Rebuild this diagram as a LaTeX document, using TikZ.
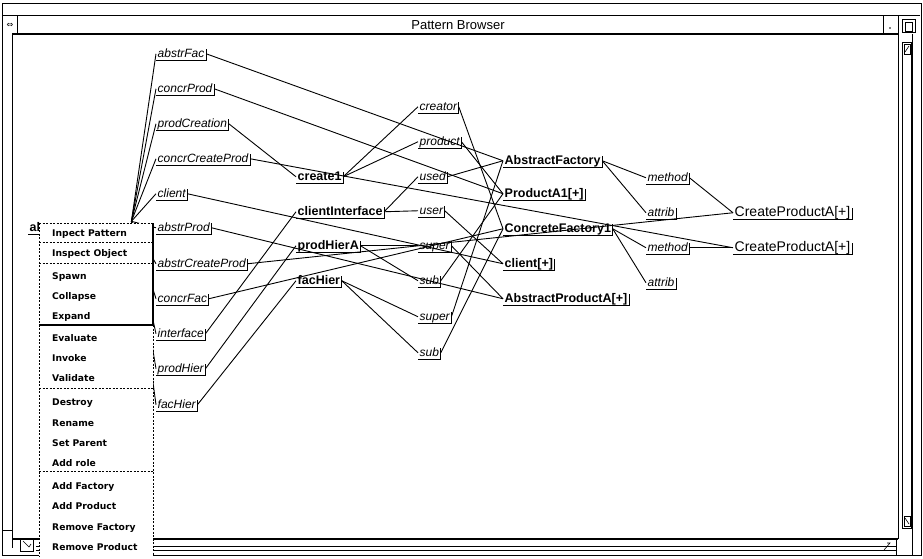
\documentclass[tikz,border=0pt]{standalone}
\usepackage{fontspec}
\setmainfont{Liberation Sans}
\newfontfamily\uifont{Liberation Sans}
\newfontfamily\menufamily{DejaVu Sans}
\newcommand\rolefont{\uifont\itshape\fontsize{12}{14}\selectfont}
\newcommand\partfont{\uifont\bfseries\fontsize{12.5}{14}\selectfont}
\newcommand\opfont{\uifont\fontsize{14}{16}\selectfont}
\newcommand\menufont{\menufamily\bfseries\fontsize{9.2}{10}\selectfont}
\newcommand\titlefont{\uifont\fontsize{13}{15}\selectfont}
\newcommand\glyphfont{\menufamily\fontsize{8}{9}\selectfont}

\tikzset{
  lab/.style={anchor=base west, inner xsep=1.5pt, inner ysep=1pt, text height=8.5pt, text depth=2pt},
  role/.style={lab, font=\rolefont},
  part/.style={lab, font=\partfont},
  oper/.style={lab, font=\opfont},
  mitem/.style={anchor=base west, inner sep=0pt, font=\menufont},
  link/.style={line width=0.9pt},
  uline/.style={line width=0.9pt},
  frame/.style={line width=0.9pt},
  heavy/.style={line width=1.4pt},
  sep/.style={line width=0.7pt, dash pattern=on 2pt off 1.5pt},
}

\begin{document}
\begin{tikzpicture}[x=1pt,y=-1pt]
\useasboundingbox (0,0) rectangle (923,558);
\fill[white] (0,0) rectangle (923,558);

% ---------- window frame ----------
\draw[frame] (2,3) rectangle (921,555);
\draw[frame] (3,15) -- (920,15);
\draw[heavy] (12,34) -- (898,34);
\draw[frame] (17,15) -- (17,34);
\draw[frame] (883,15) -- (883,34);
\draw[frame] (898,15) -- (898,34);
\node[font=\titlefont] (title) at (458,25) {Pattern Browser};
% close box glyph
\node[font=\glyphfont, inner sep=0pt] (closebox) at (10,25) {⇔};
% right title buttons
\fill (890,28) circle (0.9pt);
\draw[line width=0.6pt] (902,19) rectangle (915,32);
\draw[line width=0.6pt] (905,22) rectangle (912,31);

% pane borders
\draw[frame] (12,34) -- (12,548);
\draw[frame] (3,530) -- (12,530);
\draw[frame] (898,34) -- (898,539);
\draw[frame] (912,34) -- (912,555);
\draw[heavy] (12,539) -- (898,539);
% vertical scroll bar
\draw[frame] (902,42) rectangle (911,528);
\draw[line width=0.6pt] (904,44) rectangle (910,54);
\draw[line width=0.6pt] (905,52) -- (909,46);
\draw[line width=0.6pt] (904,516) rectangle (910,526);
\draw[line width=0.6pt] (905,518) -- (909,524);
% horizontal scroll bar
\draw[line width=0.6pt] (36,546) -- (896,546);
\draw[line width=0.6pt] (36,550) -- (896,550);
\draw[line width=0.6pt] (884,550) -- (890,543) -- (887,543);
\draw[line width=0.6pt] (896,539) -- (896,555);
% corner icon
\draw[line width=0.6pt] (20,538) rectangle (33,551);
\draw[line width=0.6pt] (23,541) -- (29,547) -- (31,544);

% ---------- pattern root and its roles ----------
\node[part] (root) at (28,231) {\makebox[100pt][l]{ab}};

\node[role] (rAbstrFac)        at (156,57)  {abstrFac};
\node[role] (rConcrProd)       at (156,92)  {concrProd};
\node[role] (rProdCreation)    at (156,127) {prodCreation};
\node[role] (rConcrCreateProd) at (156,162) {concrCreateProd};
\node[role] (rClient)          at (156,197) {client};
\node[role] (rAbstrProd)       at (156,231) {abstrProd};
\node[role] (rAbstrCreateProd) at (156,267) {abstrCreateProd};
\node[role] (rConcrFac)        at (156,302) {concrFac};
\node[role] (rInterface)       at (156,337) {interface};
\node[role] (rProdHier)        at (156,372) {prodHier};
\node[role] (rFacHier)         at (156,408) {facHier};

% relations
\node[part] (create)     at (296,180) {create1};
\node[part] (clientIf)   at (296,215) {clientInterface};
\node[part] (prodHierA)  at (296,249) {prodHierA};
\node[part] (facHier)    at (296,284) {facHier};

% relation roles
\node[role] (creator) at (418,110) {creator};
\node[role] (product) at (418,145) {product};
\node[role] (used)    at (418,180) {used};
\node[role] (user)    at (418,214) {user};
\node[role] (superA)  at (418,249) {super};
\node[role] (subA)    at (418,284) {sub};
\node[role] (superF)  at (418,320) {super};
\node[role] (subF)    at (418,356) {sub};

% participants
\node[part] (absFactory) at (503,164) {AbstractFactory};
\node[part] (prodA1)     at (503,197) {ProductA1[+]};
\node[part] (conFactory) at (503,232) {ConcreteFactory1};
\node[part] (clientP)    at (503,267) {client[+]};
\node[part] (absProdA)   at (503,302) {AbstractProductA[+]};

% features
\node[role] (methodA) at (646,181) {method};
\node[role] (attribA) at (646,216) {attrib};
\node[role] (methodC) at (646,251) {method};
\node[role] (attribC) at (646,286) {attrib};

% operations
\node[oper] (createA) at (733,216) {CreateProductA[+]};
\node[oper] (createC) at (733,251) {CreateProductA[+]};

% underline and end tick of every label
\foreach \n in {root,rAbstrFac,rConcrProd,rProdCreation,rConcrCreateProd,rClient,
  rAbstrProd,rAbstrCreateProd,rConcrFac,rInterface,rProdHier,rFacHier,
  create,clientIf,prodHierA,facHier,creator,product,used,user,superA,subA,superF,subF,
  absFactory,prodA1,conFactory,clientP,absProdA,methodA,attribA,methodC,attribC,
  createA,createC}
  \draw[uline] (\n.south west) -- (\n.south east) -- ([yshift=-1.5pt]\n.north east);

% ---------- connectors ----------
\foreach \t in {rAbstrFac,rConcrProd,rProdCreation,rConcrCreateProd,rClient,
  rAbstrProd,rAbstrCreateProd,rConcrFac,rInterface,rProdHier,rFacHier}
  \draw[link] (root.north east) -- (\t.west);

\draw[link] (rAbstrFac.east) -- (absFactory.west);
\draw[link] (rConcrProd.east) -- (prodA1.west);
\draw[link] (rProdCreation.east) -- (create.west);
\draw[link] (rConcrCreateProd.east) -- (createC.west);
\draw[link] (rClient.east) -- (clientP.west);
\draw[link] (rAbstrProd.east) -- (absProdA.west);
\draw[link] (rAbstrCreateProd.east) -- (createA.west);
\draw[link] (rConcrFac.east) -- (conFactory.west);
\draw[link] (rInterface.east) -- (clientIf.west);
\draw[link] (rProdHier.east) -- (prodHierA.west);
\draw[link] (rFacHier.east) -- (facHier.west);

\draw[link] (create.east) -- (creator.west);
\draw[link] (create.east) -- (product.west);
\draw[link] (clientIf.east) -- (used.west);
\draw[link] (clientIf.east) -- (user.west);
\draw[link] (prodHierA.east) -- (superA.west);
\draw[link] (prodHierA.east) -- (subA.west);
\draw[link] (facHier.east) -- (superF.west);
\draw[link] (facHier.east) -- (subF.west);

\draw[link] (creator.east) -- (conFactory.west);
\draw[link] (product.east) -- (prodA1.west);
\draw[link] (used.east) -- (absFactory.west);
\draw[link] (user.east) -- (clientP.west);
\draw[link] (superA.east) -- (absProdA.west);
\draw[link] (subA.east) -- (prodA1.west);
\draw[link] (superF.east) -- (absFactory.west);
\draw[link] (subF.east) -- (conFactory.west);

\draw[link] (absFactory.east) -- (methodA.west);
\draw[link] (absFactory.east) -- (attribA.west);
\draw[link] (conFactory.east) -- (methodC.west);
\draw[link] (conFactory.east) -- (attribC.west);
\draw[link] (methodA.east) -- (createA.west);
\draw[link] (methodC.east) -- (createC.west);

% ---------- pop-up menu ----------
\fill[white] (39,223) rectangle (153,556);
\draw[sep] (39,223) -- (153,223);
\draw[sep] (39,223) -- (39,556);
\draw[heavy] (153,223) -- (153,325);
\draw[sep] (153,325) -- (153,556);
\draw[sep] (39,242) -- (153,242);
\draw[sep] (39,263) -- (153,263);
\draw[line width=1.1pt] (39,325) -- (153,325);
\draw[sep] (39,388) -- (153,388);
\draw[sep] (39,471) -- (153,471);

\node[mitem] (m1)  at (52,236.5) {Inpect Pattern};
\node[mitem] (m2)  at (52,256.5) {Inspect Object};
\node[mitem] (m3)  at (52,279.5) {Spawn};
\node[mitem] (m4)  at (52,299.5) {Collapse};
\node[mitem] (m5)  at (52,319.5) {Expand};
\node[mitem] (m6)  at (52,341.5) {Evaluate};
\node[mitem] (m7)  at (52,361.5) {Invoke};
\node[mitem] (m8)  at (52,381.5) {Validate};
\node[mitem] (m9)  at (52,405.5) {Destroy};
\node[mitem] (m10) at (52,426.5) {Rename};
\node[mitem] (m11) at (52,446.5) {Set Parent};
\node[mitem] (m12) at (52,466.5) {Add role};
\node[mitem] (m13) at (52,489.5) {Add Factory};
\node[mitem] (m14) at (52,509.5) {Add Product};
\node[mitem] (m15) at (52,530.5) {Remove Factory};
\node[mitem] (m16) at (52,550.5) {Remove Product};
\end{tikzpicture}
\end{document}
